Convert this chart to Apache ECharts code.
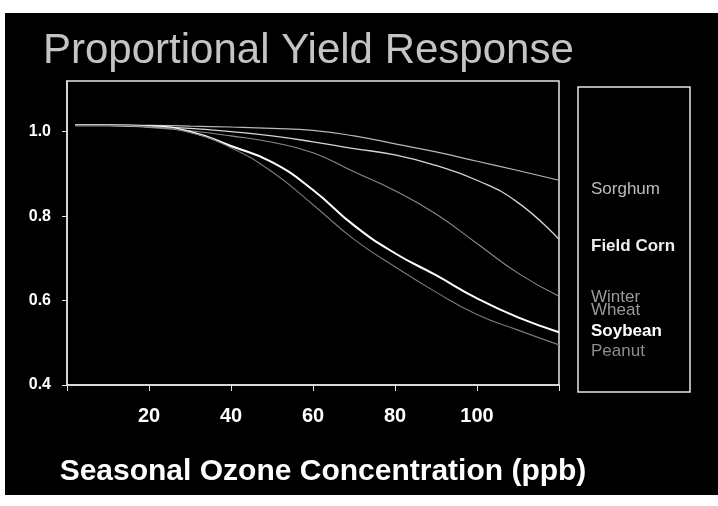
<!DOCTYPE html>
<html>
<head>
<meta charset="utf-8">
<script src="https://cdn.jsdelivr.net/npm/echarts@6/dist/echarts.min.js"></script>
<style>
  html, body { margin: 0; padding: 0; background: #fff; }
  #main { width: 718px; height: 506px; }
</style>
</head>
<body>
<div id="main"></div>
<script>
// seasonal ozone (ppb) and proportional yield
var ozone = [2, 10, 20, 30, 40, 50, 60, 70, 80, 90, 100, 110, 120];
var cropNames = ['Sorghum', 'Field Corn', 'Winter Wheat', 'Soybean', 'Peanut'];
var sorghum = [1.015, 1.015, 1.015, 1.013, 1.011, 1.008, 1.003, 0.99, 0.971, 0.952, 0.93, 0.908, 0.885];
var fieldCorn = [1.015, 1.015, 1.012, 1.008, 1.0, 0.99, 0.976, 0.96, 0.945, 0.92, 0.885, 0.832, 0.745];
var winterWheat = [1.015, 1.015, 1.01, 1.002, 0.99, 0.975, 0.95, 0.905, 0.86, 0.805, 0.735, 0.665, 0.61];
var soybean = [1.015, 1.015, 1.013, 1.0, 0.966, 0.928, 0.862, 0.778, 0.712, 0.66, 0.605, 0.56, 0.525];
var peanut = [1.015, 1.015, 1.012, 0.998, 0.962, 0.905, 0.827, 0.745, 0.68, 0.62, 0.567, 0.53, 0.495];
var yTicks = [0.4, 0.6, 0.8, 1.0];
var xTickLabels = [20, 40, 60, 80, 100];

var yields = [sorghum, fieldCorn, winterWheat, soybean, peanut];
var lineColors = ['#b8b8b8', '#d6d6d6', '#8a8a8a', '#ffffff', '#7a7a7a'];
var lineWidths = [1.2, 1.3, 1.1, 2, 1.1];
var labelColors = ['#bdbdbd', '#eeeeee', '#9a9a9a', '#ffffff', '#8c8c8c'];
var labelY = [190, 247, 303, 332, 352];

var myChart = echarts.init(document.getElementById('main'));

var series = cropNames.map(function (name, i) {
  return {
    name: name,
    type: 'line',
    smooth: true,
    showSymbol: false,
    lineStyle: { color: lineColors[i], width: lineWidths[i] },
    data: ozone.map(function (x, j) { return [x, yields[i][j]]; })
  };
});

var legendTexts = cropNames.map(function (name, i) {
  return {
    type: 'text',
    left: 591,
    top: labelY[i] - (name === 'Winter Wheat' ? 14 : 9),
    style: {
      text: name.replace('Winter ', 'Winter\n'),
      fill: labelColors[i],
      font: (name === 'Soybean' || name === 'Field Corn' ? 'bold ' : '') + '17px "Liberation Sans", Arial, sans-serif',
      lineHeight: 13
    }
  };
});

var option = {
  animation: false,
  textStyle: { fontFamily: '"Liberation Sans", Arial, sans-serif' },
  title: {
    text: 'Proportional Yield Response',
    left: 38,
    top: 25,
    textStyle: { color: '#c4c4c4', fontSize: 42, fontWeight: 'normal' }
  },
  graphic: [
    { type: 'rect', z: -10, shape: { x: 5, y: 13, width: 713, height: 482 }, style: { fill: '#000' } },
    { type: 'rect', z: 5, shape: { x: 578, y: 87, width: 112, height: 305 }, style: { fill: 'none', stroke: '#e6e6e6', lineWidth: 1.5 } }
  ].concat(legendTexts),
  grid: {
    left: 67, right: 159, top: 81, bottom: 121,
    show: true, borderColor: '#e6e6e6', borderWidth: 1.5
  },
  xAxis: {
    type: 'value',
    min: 0, max: 120, interval: 20,
    name: 'Seasonal Ozone Concentration (ppb)',
    nameLocation: 'middle',
    nameGap: 72,
    nameTextStyle: { color: '#fff', fontSize: 30, fontWeight: 'bold', padding: [0, 0, 0, 20] },
    axisLine: { lineStyle: { color: '#e6e6e6', width: 1.5 } },
    axisTick: { show: true, length: 6, lineStyle: { color: '#e6e6e6' } },
    splitLine: { show: false },
    axisLabel: {
      color: '#fff', fontSize: 20, fontWeight: 'bold', margin: 21,
      formatter: function (v) { return xTickLabels.indexOf(v) >= 0 ? String(v) : ''; }
    }
  },
  yAxis: {
    type: 'value',
    min: 0.4, max: 1.12, interval: 0.2,
    axisLine: { show: true, lineStyle: { color: '#e6e6e6', width: 1.5 } },
    axisTick: { show: true, length: 5, lineStyle: { color: '#e6e6e6' } },
    splitLine: { show: false },
    axisLabel: {
      color: '#fff', fontSize: 16, fontWeight: 'bold', margin: 16, showMaxLabel: false,
      formatter: function (v) {
        for (var k = 0; k < yTicks.length; k++) {
          if (Math.abs(yTicks[k] - v) < 1e-6) return yTicks[k].toFixed(1);
        }
        return '';
      }
    }
  },
  series: series
};

myChart.setOption(option);
</script>
</body>
</html>
